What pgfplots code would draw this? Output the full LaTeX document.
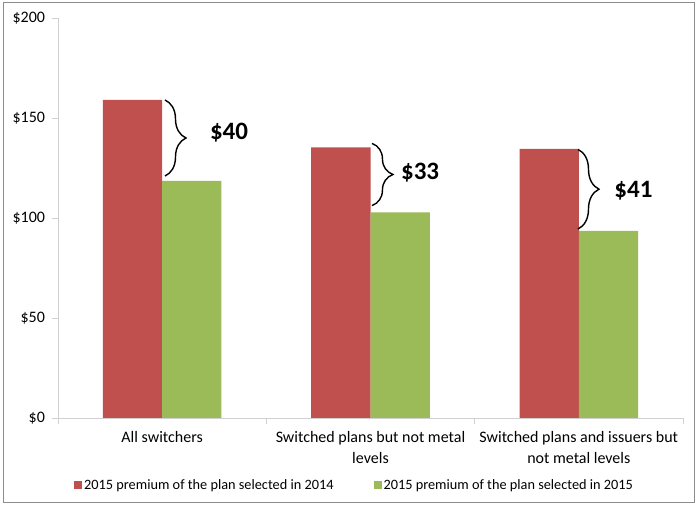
\documentclass[border=0pt]{standalone}
\usepackage{fontspec}
\setmainfont{Carlito}
\usepackage{pgfplots}
\pgfplotsset{compat=1.18}
\usetikzlibrary{decorations.pathreplacing}
\definecolor{barred}{HTML}{C0504D}
\definecolor{bargreen}{HTML}{9BBB59}
\definecolor{axgray}{HTML}{D0D0D0}
\definecolor{framegray}{HTML}{8C8C8C}
\begin{document}
\begin{tikzpicture}
\useasboundingbox (0pt,0pt) rectangle (697pt,506pt);
\draw[framegray, line width=1pt] (3pt,3pt) rectangle (694pt,503pt);
\begin{axis}[
  at={(58pt,88pt)}, anchor=south west,
  scale only axis, width=625pt, height=400pt,
  xmin=-0.5, xmax=2.5, ymin=0, ymax=200,
  axis x line*=bottom, axis y line*=left,
  axis line style={draw=axgray, line width=0.8pt},
  tick style={draw=axgray, line width=0.8pt},
  tick align=outside, major tick length=6pt, minor tick length=6pt,
  ytick={0,50,100,150,200},
  yticklabels={\$0,\$50,\$100,\$150,\$200},
  yticklabel style={font=\fontsize{16}{20}\selectfont, xshift=-3.5pt},
  xtick={0,1,2},
  xticklabels={All switchers, Switched plans but not metal\\levels, Switched plans and issuers but\\not metal levels},
  xticklabel style={font=\fontsize{16}{20.5}\selectfont, align=center, yshift=-4pt},
  major x tick style={draw=none},
  minor xtick={-0.5,0.5,1.5,2.5},
  ybar=0pt, bar width=59.3pt,
  legend columns=2,
  legend style={at={(0.0256,-0.1675)}, anchor=west, draw=none, fill=none,
    font=\fontsize{14.3}{17}\selectfont, inner sep=0pt,
    /tikz/every even column/.append style={column sep=38pt}},
  legend image code/.code={\fill (0pt,-4pt) rectangle (8pt,4pt);},
]
\addplot[fill=barred, draw=none] coordinates {(0,159) (1,135.3) (2,134.5)};
\addplot[fill=bargreen, draw=none] coordinates {(0,118.5) (1,102.8) (2,93.5)};
\legend{2015 premium of the plan selected in 2014, 2015 premium of the plan selected in 2015}
\draw[decorate, decoration={brace, amplitude=21pt}, line width=1.4pt, black]
  (axis cs:0.0136,159) -- (axis cs:0.0136,121);
\draw[decorate, decoration={brace, amplitude=21pt}, line width=1.4pt, black]
  (axis cs:1.007,137.3) -- (axis cs:1.007,106.2);
\draw[decorate, decoration={brace, amplitude=21pt}, line width=1.4pt, black]
  (axis cs:1.996,134.3) -- (axis cs:1.996,94.5);
\node[anchor=base, font=\bfseries\fontsize{25}{30}\selectfont] at (axis cs:0.321,139) {\$40};
\node[anchor=base, font=\bfseries\fontsize{25}{30}\selectfont] at (axis cs:1.238,119) {\$33};
\node[anchor=base, font=\bfseries\fontsize{25}{30}\selectfont] at (axis cs:2.262,110) {\$41};
\end{axis}
\end{tikzpicture}
\end{document}
